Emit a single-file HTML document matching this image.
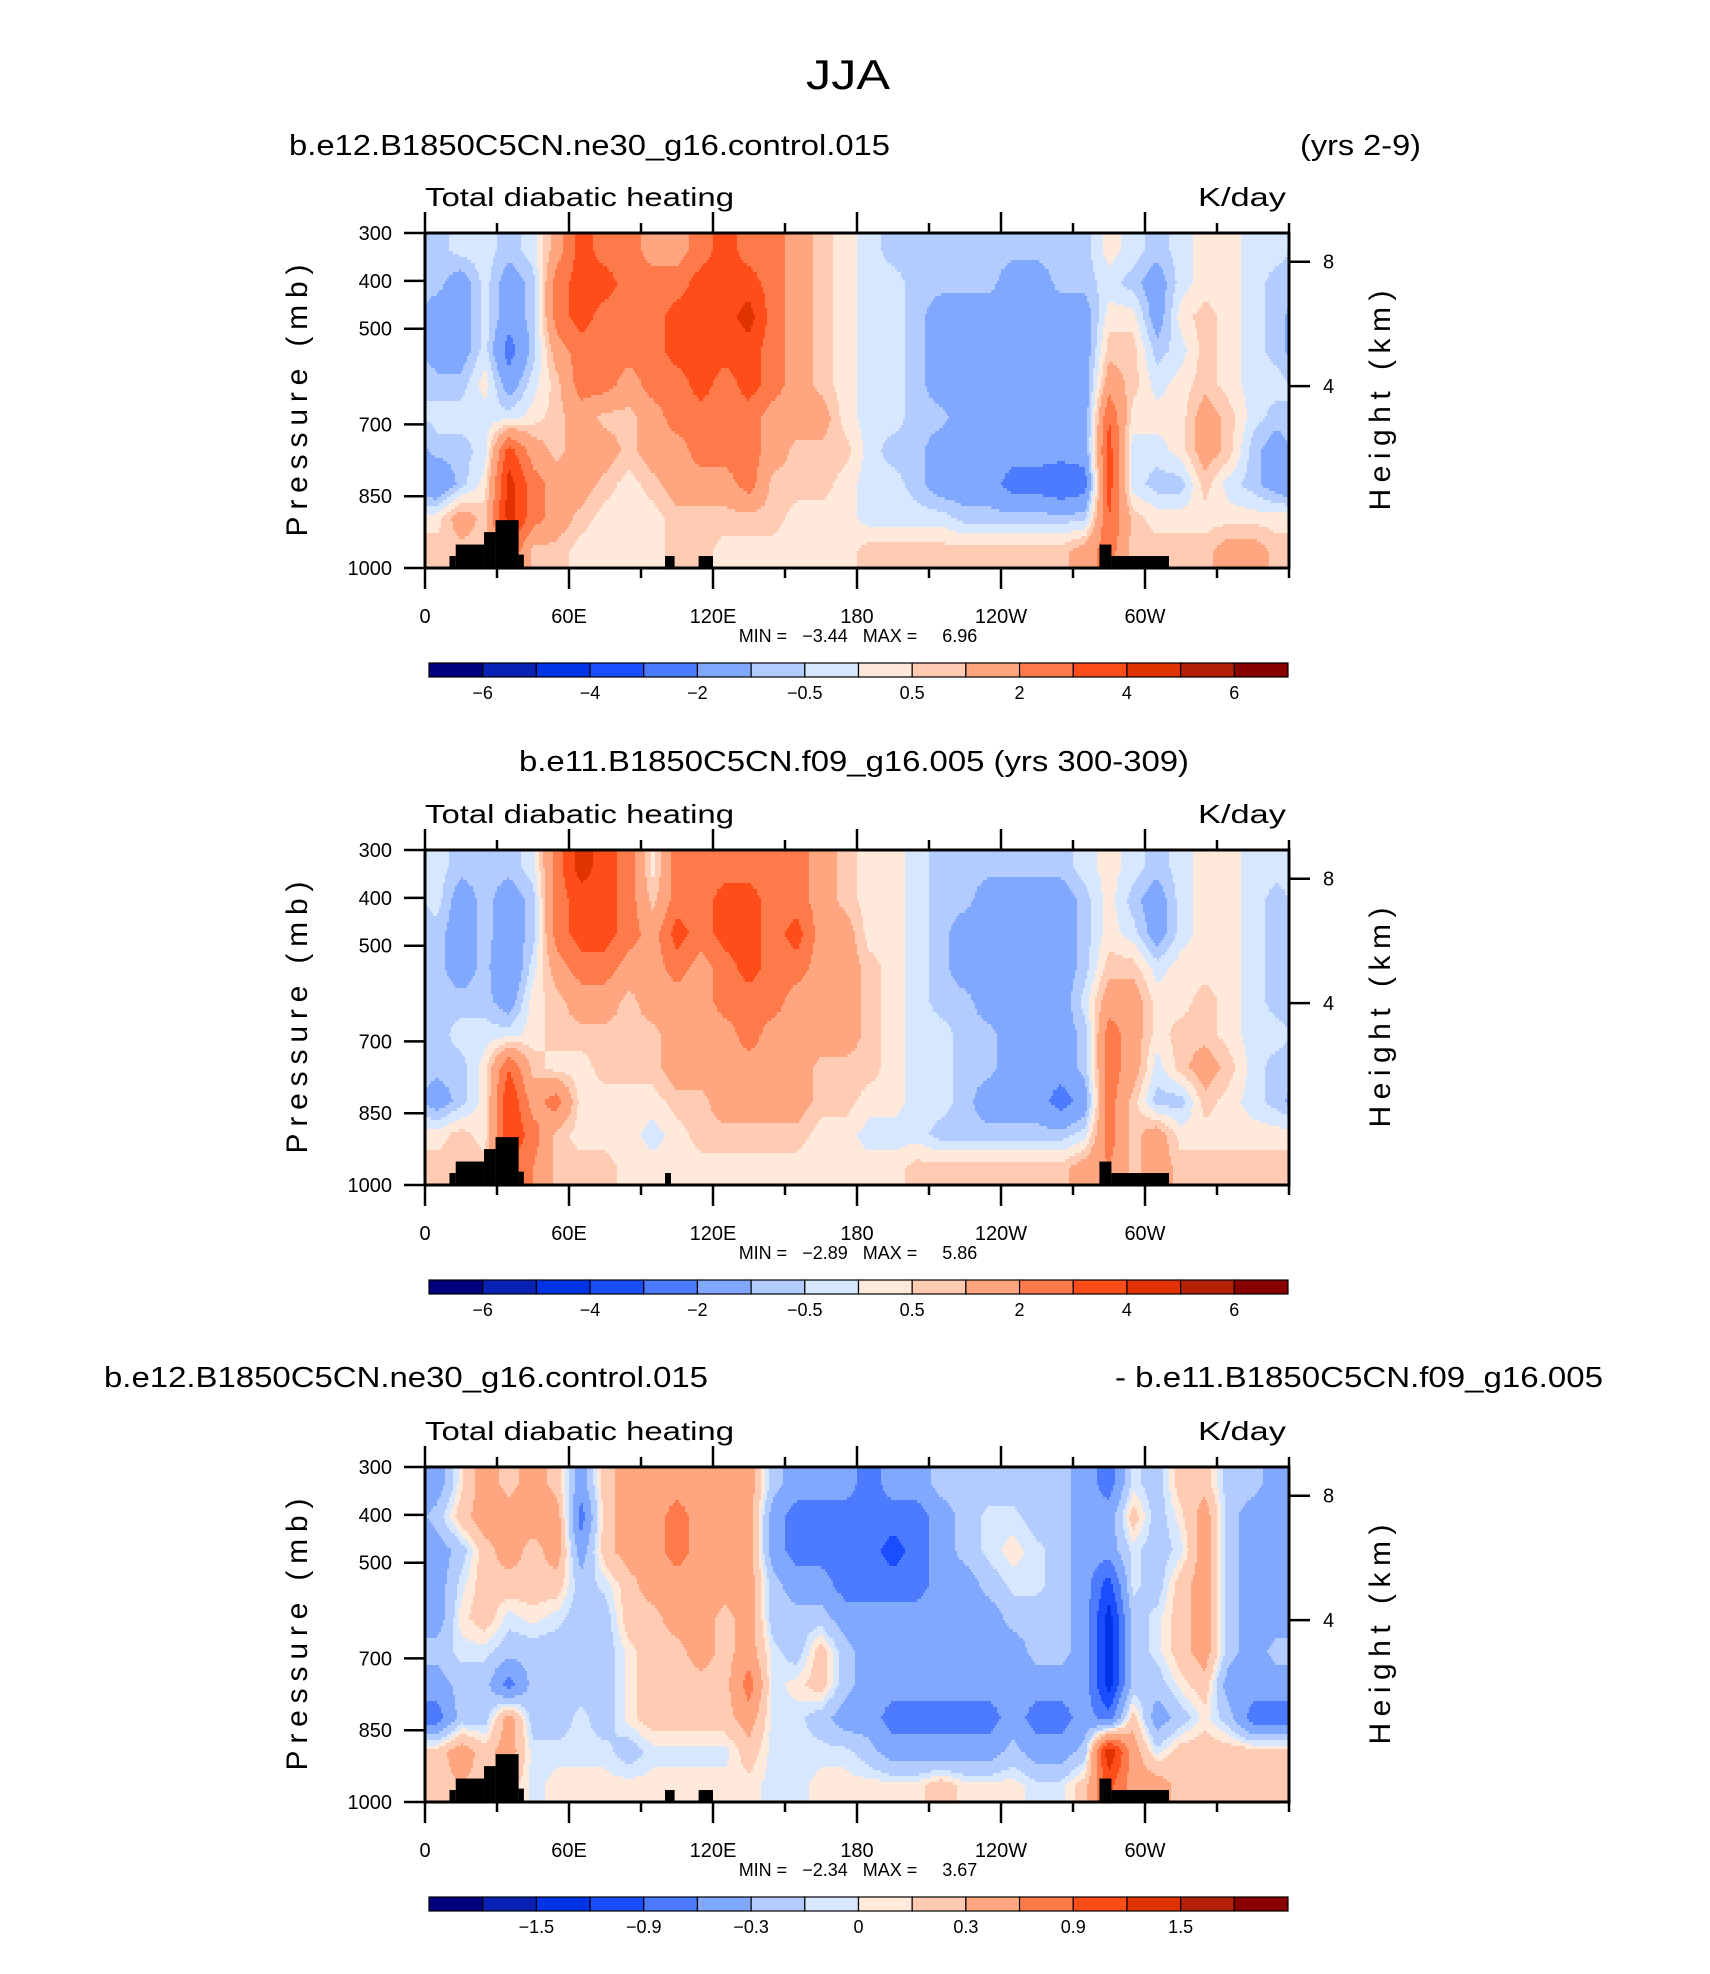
<!DOCTYPE html>
<html><head><meta charset="utf-8"><style>
html,body{margin:0;padding:0;background:#fff;}
svg{display:block;font-family:"Liberation Sans",sans-serif;}
.pre{white-space:pre;}
</style></head><body>
<svg id="fig" width="1710" height="1974" viewBox="0 0 1710 1974" xmlns="http://www.w3.org/2000/svg">
<rect x="0" y="0" width="1710" height="1974" fill="#fff"/>
<text x="848" y="89" font-size="42" text-anchor="middle" textLength="84" lengthAdjust="spacingAndGlyphs">JJA</text>
</svg>
<script>
// ---------- data ----------
const pressureCenters = [335,405,475,545,615,685,755,825,895,965];
const lonCenters = [5,15,25,35,45,55,65,75,85,95,105,115,125,135,145,155,165,175,185,195,205,215,225,235,245,255,265,275,285,295,305,315,325,335,345,355];
const pressureTicks = [300,400,500,700,850,1000];
const heightTickLabels = ["8","4"];
const heightTickPressures = [360,620];
const lonTickValues = [0,60,120,180,240,300];
const lonTickLabels = ["0","60E","120E","180","120W","60W"];
const levelsA = [-6,-5,-4,-3,-2,-1,-0.5,0,0.5,1,2,3,4,5,6];
const levelsDiff = [-1.8,-1.5,-1.2,-0.9,-0.6,-0.3,-0.1,0,0.1,0.3,0.6,0.9,1.2,1.5,1.8];
const barLabelsA = ["−6","−4","−2","−0.5","0.5","2","4","6"];
const barLabelIdxA = [1,3,5,7,9,11,13,15];
const barLabelsDiff = ["−1.5","−0.9","−0.3","0","0.3","0.9","1.5"];
const barLabelIdxDiff = [2,4,6,8,10,12,14];
const palette = ["#00007f","#0a22b4","#0033e6","#1a4dff","#4d7bff","#80a8ff","#b3ccff","#d7e7ff","#ffe9da","#ffcbb3","#ffa680","#ff7a4a","#ff4d1a","#e03300","#b52106","#880000"];
const terrain1 = [[10.2,12.8,975],[12.8,24.6,951],[24.6,29.4,925],[29.4,39,900],[39,41.2,972],[100,104,975],[114,120,975],[281,286,951],[286,310,975]];
const terrain2 = [[10.2,12.8,975],[12.8,24.6,951],[24.6,29.4,925],[29.4,39,900],[39,41.2,972],[100,102.5,975],[281,286,951],[286,310,975]];
const heat1 = [
[-0.75,-0.75,-1.5,-1.5,-0.75,-0.25,-0.75,-2,0.25,0.75],
[-0.25,-1.5,-1.5,-1.5,-0.75,-0.25,-0.75,-0.75,1.5,0.75],
[-0.25,-0.25,-0.25,-0.25,0.25,-0.25,-0.25,0.25,0.75,0.75],
[-0.75,-1.5,-1.5,-2.5,-1.5,-0.25,3.5,4.5,4.5,3],
[-0.25,-0.75,-0.75,-0.75,-0.25,0.25,1.5,2.5,2.5,0.75],
[1.5,2.5,2.5,1.5,0.75,0.75,0.75,1.5,1.5,0.75],
[3.5,3.5,3.5,2.5,2.5,1.5,1.5,1.5,0.75,0.25],
[2.5,3.5,2.5,2.5,2.5,0.75,1.5,0.75,0.25,0.25],
[2.5,2.5,2.5,2.5,1.5,0.75,0.75,0.25,0.25,0.25],
[1.5,2.5,2.5,2.5,2.5,1.5,1.5,0.75,0.25,0.25],
[1.5,2.5,3.5,3.5,2.5,2.5,1.5,1.5,0.75,0.75],
[2.5,3.5,3.5,3.5,3.5,2.5,2.5,1.5,0.75,0.75],
[3.5,3.5,3.5,3.5,2.5,2.5,2.5,1.5,0.75,0.25],
[2.5,3.5,4.5,3.5,3.5,2.5,2.5,2.5,0.75,0.25],
[2.5,2.5,2.5,2.5,2.5,1.5,1.5,0.75,0.75,0.25],
[1.5,1.5,1.5,1.5,1.5,1.5,0.75,0.75,0.25,0.25],
[0.75,0.75,0.75,0.75,0.75,1.5,0.75,0.75,0.25,0.25],
[0.25,0.25,0.25,0.25,0.25,0.25,0.75,0.25,0.25,0.25],
[-0.25,-0.25,-0.25,-0.25,-0.25,-0.25,-0.25,-0.25,-0.25,0.75],
[-0.75,-0.25,-0.25,-0.25,-0.25,-0.25,-0.75,-0.25,-0.25,0.75],
[-0.75,-0.75,-0.75,-0.75,-0.75,-0.75,-0.75,-0.75,-0.25,0.75],
[-0.75,-0.75,-1.5,-1.5,-1.5,-0.75,-1.5,-1.5,-0.25,0.75],
[-0.75,-0.75,-1.5,-1.5,-1.5,-1.5,-1.5,-1.5,-0.75,0.75],
[-0.75,-0.75,-1.5,-1.5,-1.5,-1.5,-1.5,-1.5,-0.75,0.75],
[-0.75,-1.5,-1.5,-1.5,-1.5,-1.5,-1.5,-2.5,-0.75,0.75],
[-0.75,-1.5,-1.5,-1.5,-1.5,-1.5,-1.5,-2.5,-0.75,0.75],
[-0.75,-0.75,-1.5,-1.5,-1.5,-1.5,-1.5,-3,-0.75,0.75],
[-0.75,-0.75,-1.5,-1.5,-1.5,-1.5,-1.5,-2.5,-0.75,1.5],
[0.25,-0.25,0.25,0.75,1.5,3,3.5,3.5,3,2.5],
[-0.25,-0.75,0.25,0.75,0.75,0.25,-0.25,-0.25,0.75,0.75],
[-0.75,-1.5,-1.5,-0.75,-0.25,0.25,-0.25,-0.75,0.25,0.75],
[-0.25,-0.25,0.25,-0.25,0.25,0.25,0.25,-0.75,0.25,0.75],
[0.25,0.25,0.75,0.75,0.75,1.5,1.5,0.75,0.25,0.75],
[0.25,0.25,0.25,0.25,0.25,0.75,0.75,-0.25,0.25,1.5],
[-0.25,-0.25,-0.25,-0.25,-0.25,-0.25,-0.75,-0.75,0.25,1.5],
[-0.25,-0.75,-0.75,-0.75,-0.25,-0.75,-1.5,-1.5,0.25,0.75]
];
const heat2 = [
[-0.25,-0.25,-0.75,-0.75,-0.75,-0.75,-0.75,-1.5,0.25,0.75],
[-0.75,-1.5,-1.5,-1.5,-0.75,-0.25,-0.75,-0.75,0.75,0.75],
[-0.75,-0.75,-0.75,-0.75,-0.75,-0.25,0.25,0.25,0.25,0.75],
[-0.75,-1.5,-1.5,-2,-1.5,-0.25,3,4,4,3],
[-0.25,-0.75,-0.75,-0.25,0.25,0.25,0.75,1.5,2.5,2],
[2.5,2.5,2.5,1.5,0.75,0.75,0.25,2.5,0.75,0.75],
[4.5,3.5,3.5,2.5,1.5,0.75,0.25,0.25,0.25,0.75],
[3.5,3.5,3.5,2.5,1.5,0.75,0.75,0.25,0.25,0.75],
[2.5,2.5,2.5,1.5,0.75,0.75,0.75,0.25,0.25,0.25],
[0.25,0.75,1.5,1.5,1.5,0.75,0.75,0.25,-0.25,0.25],
[2.5,2.5,3.5,2.5,1.5,1.5,1.5,0.75,0.25,0.25],
[2.5,2.5,2.5,1.5,1.5,1.5,1.5,0.75,0.75,0.25],
[2.5,3.5,3.5,2.5,2.5,1.5,1.5,1.5,0.75,0.25],
[2.5,3.5,3.5,3.5,2.5,2.5,1.5,1.5,0.75,0.25],
[2.5,2.5,2.5,2.5,2.5,1.5,1.5,1.5,0.75,0.25],
[2.5,2.5,3.5,2.5,1.5,1.5,1.5,1.5,0.75,0.25],
[1.5,1.5,1.5,1.5,1.5,1.5,0.75,0.75,0.25,0.25],
[0.75,0.75,1.5,1.5,1.5,1.5,0.75,0.75,0.25,0.25],
[0.25,0.25,0.25,0.75,0.75,0.75,0.75,0.25,-0.25,0.25],
[0.25,0.25,0.25,0.25,0.25,0.25,0.25,0.25,-0.25,0.25],
[-0.25,-0.25,-0.25,-0.25,-0.25,-0.25,-0.25,-0.25,-0.25,0.75],
[-0.75,-0.75,-0.75,-0.75,-0.75,-0.25,-0.25,-0.25,-0.75,0.75],
[-0.75,-0.75,-1.5,-1.5,-0.75,-0.75,-0.75,-0.75,-0.75,0.75],
[-0.75,-1.5,-1.5,-1.5,-1.5,-0.75,-0.75,-1.5,-0.75,0.75],
[-0.75,-1.5,-1.5,-1.5,-1.5,-1.5,-1.5,-1.5,-0.75,0.75],
[-0.75,-1.5,-1.5,-1.5,-1.5,-1.5,-1.5,-1.5,-0.75,0.75],
[-0.75,-1.5,-1.5,-1.5,-1.5,-1.5,-1.5,-2.5,-0.75,0.75],
[-0.25,-0.75,-0.75,-0.75,-0.25,-0.75,-0.75,-1.5,-0.25,1.5],
[0.25,0.25,0.25,0.75,1.5,2.5,2.5,2.5,2.5,2],
[-0.25,-0.75,-0.25,0.75,1.5,1.5,1.5,0.75,0.75,0.75],
[-0.75,-1.5,-1.5,-0.25,0.25,0.25,-0.25,-0.75,1.5,1.5],
[-0.25,-0.25,-0.25,0.25,0.25,0.75,0.75,-0.75,0.25,0.75],
[0.25,0.25,0.25,0.25,0.75,0.75,1.5,0.75,0.25,0.75],
[0.25,0.25,0.25,0.25,0.25,0.25,0.75,0.25,0.25,0.75],
[-0.25,-0.25,-0.25,-0.25,-0.25,-0.25,-0.25,-0.25,0.25,0.75],
[-0.25,-0.75,-0.75,-0.75,-0.75,-0.25,-0.75,-0.75,0.25,0.75]
];
const heatDiff = [
[-0.45,-0.2,-0.45,-0.45,-0.45,-0.2,-0.45,-0.75,0.2,0.2],
[0.05,0.2,-0.2,-0.05,0.05,-0.05,-0.2,-0.2,0.45,0.3],
[0.45,0.45,0.2,0.2,0.2,-0.05,-0.2,-0.2,0.2,0.2],
[0.2,0.45,0.45,0.2,-0.05,-0.2,-0.75,0.45,0.45,0.2],
[0.45,0.45,0.2,0.2,0.05,-0.2,-0.2,-0.2,-0.05,-0.05],
[0.2,0.45,0.45,0.2,-0.05,-0.2,-0.2,-0.2,-0.05,0.05],
[-0.45,-0.75,-0.45,-0.2,-0.2,-0.2,-0.2,-0.05,-0.05,0.05],
[0.2,0.2,0.2,-0.05,-0.2,-0.2,-0.2,-0.2,-0.05,0.05],
[0.45,0.45,0.45,0.2,0.2,0.05,0.05,0.05,-0.2,0.05],
[0.45,0.45,0.45,0.45,0.2,0.2,0.2,0.2,-0.05,0.05],
[0.45,0.75,0.75,0.45,0.45,0.2,0.2,0.2,-0.05,0.05],
[0.45,0.45,0.45,0.45,0.45,0.45,0.2,0.2,-0.05,0.05],
[0.45,0.45,0.45,0.45,0.2,0.2,0.2,0.2,-0.05,0.05],
[0.45,0.45,0.45,0.45,0.45,0.45,0.75,0.45,0.2,0.05],
[-0.2,-0.45,-0.45,-0.2,-0.2,-0.05,-0.05,-0.05,-0.05,-0.05],
[-0.45,-0.75,-0.75,-0.45,-0.2,-0.2,0.05,-0.05,-0.05,-0.05],
[-0.45,-0.75,-0.75,-0.45,-0.2,0.2,0.2,-0.2,-0.05,0.05],
[-0.45,-0.75,-0.75,-0.75,-0.45,-0.2,-0.2,-0.45,-0.05,0.05],
[-0.75,-0.75,-0.75,-0.75,-0.45,-0.45,-0.45,-0.45,-0.2,0.05],
[-0.45,-0.75,-1.05,-0.75,-0.45,-0.45,-0.45,-0.75,-0.45,0.05],
[-0.45,-0.75,-0.75,-0.75,-0.45,-0.45,-0.45,-0.75,-0.45,0.05],
[-0.2,-0.45,-0.45,-0.45,-0.45,-0.45,-0.45,-0.75,-0.45,0.2],
[-0.2,-0.2,-0.2,-0.45,-0.45,-0.45,-0.45,-0.75,-0.45,0.05],
[-0.2,-0.05,-0.05,-0.2,-0.45,-0.45,-0.45,-0.75,-0.45,0.05],
[-0.2,-0.05,0.05,-0.05,-0.2,-0.45,-0.45,-0.45,-0.2,0.05],
[-0.2,-0.2,-0.05,-0.05,-0.2,-0.2,-0.45,-0.75,-0.45,-0.05],
[-0.2,-0.2,-0.2,-0.2,-0.2,-0.2,-0.45,-0.75,-0.45,-0.05],
[-0.45,-0.45,-0.45,-0.45,-0.45,-0.45,-0.45,-0.45,-0.2,0.2],
[-0.75,-0.45,-0.45,-1.05,-1.35,-1.35,-1.35,-0.75,1.5,1.0],
[-0.05,0.2,-0.05,-0.05,-0.2,-0.2,-0.2,0.2,0.45,0.45],
[-0.2,-0.2,-0.2,-0.2,-0.05,-0.05,-0.2,-0.45,-0.05,0.45],
[0.2,0.05,-0.05,0.2,0.2,0.2,0.05,-0.2,0.2,0.2],
[0.2,0.45,0.45,0.45,0.45,0.45,0.2,0.05,0.2,0.2],
[-0.2,-0.2,-0.2,-0.2,-0.2,-0.2,-0.45,-0.2,0.2,0.2],
[-0.2,-0.45,-0.45,-0.45,-0.45,-0.45,-0.45,-0.75,0.2,0.2],
[-0.45,-0.45,-0.45,-0.45,-0.45,-0.2,-0.45,-0.75,0.2,0.2]
];
const minMax1 = ["−3.44","6.96"];
const minMax2 = ["−2.89","5.86"];
const minMaxDiff = ["−2.34","3.67"];

// ---------- drawing ----------
const NS = "http://www.w3.org/2000/svg";
const svg = document.getElementById("fig");
const PL = 425, PR = 1289, PW = PR - PL, PH = 335;
function el(tag, attrs, parent){
  const e = document.createElementNS(NS, tag);
  for (const k in attrs) e.setAttribute(k, attrs[k]);
  (parent || svg).appendChild(e);
  return e;
}
function txt(s, attrs, parent){ const e = el("text", attrs, parent); e.textContent = s; return e; }

function drawPanel(T, data, levels, terrain, barLabels, barIdx, mm, name){
  const g = el("g", {});
  
  
  const xOf = lon => PL + lon / 360 * PW;
  const yOf = p => T + (p - 300) / 700 * PH;
  const nx = lonCenters.length, ny = pressureCenters.length;
  function val(lon, p){
    let fx = (lon - lonCenters[0]) / (lonCenters[1] - lonCenters[0]);
    let i0 = Math.floor(fx), tx = fx - i0;
    let a = ((i0 % nx) + nx) % nx, b = (((i0 + 1) % nx) + nx) % nx;
    let j = 0;
    while (j < ny - 2 && p > pressureCenters[j + 1]) j++;
    let ty = (p - pressureCenters[j]) / (pressureCenters[j + 1] - pressureCenters[j]);
    ty = Math.max(0, Math.min(1, ty));
    const v0 = data[a][j] * (1 - tx) + data[b][j] * tx;
    const v1 = data[a][j + 1] * (1 - tx) + data[b][j + 1] * tx;
    return v0 * (1 - ty) + v1 * ty;
  }
  function ci(v){ let k = 0; while (k < levels.length && v >= levels[k]) k++; return k; }
  const field = el("g", {}, g);
  
  
  const step = 3;
  for (let y = 0; y < PH; y += step) {
    const p = 300 + (y + step / 2) / PH * 700;
    let runStart = 0, runC = -1;
    for (let x = 0; x <= PW; x += 2) {
      const c = x < PW ? ci(val((x + 1) / PW * 360, p)) : -2;
      if (c !== runC) {
        if (runC >= 0) {
          el("rect", {x: PL + runStart, y: T + y, width: x - runStart + 0.6, height: step + 0.6, fill: palette[runC]}, field);
        }
        runStart = x; runC = c;
      }
    }
  }
  terrain.forEach(t => {
    const r = el("rect", {x: xOf(t[0]), y: yOf(t[2]), width: xOf(t[1]) - xOf(t[0]), height: yOf(1000) - yOf(t[2]), fill: "#000"}, g);
    
    
  });
  const fr = el("rect", {x: PL, y: T, width: PW, height: PH, fill: "none", stroke: "#000", "stroke-width": 3}, g);
  
  
  for (let lon = 0; lon <= 360; lon += 30) {
    const major = lon % 60 === 0 && lon < 360;
    const L = major ? 21 : 10;
    el("line", {x1: xOf(lon), x2: xOf(lon), y1: T, y2: T - L, stroke: "#000", "stroke-width": 2.5}, g);
    el("line", {x1: xOf(lon), x2: xOf(lon), y1: T + PH, y2: T + PH + L, stroke: "#000", "stroke-width": 2.5}, g);
  }
  lonTickValues.forEach((v, i) => {
    const t = txt(lonTickLabels[i], {x: xOf(v), y: T + PH + 55, "font-size": 20, "text-anchor": "middle"}, g);
    
    
  });
  pressureTicks.forEach(pv => {
    el("line", {x1: PL, x2: PL - 21, y1: yOf(pv), y2: yOf(pv), stroke: "#000", "stroke-width": 2.5}, g);
    const t = txt(String(pv), {x: PL - 33, y: yOf(pv) + 7, "font-size": 20, "text-anchor": "end"}, g);
    
    
  });
  heightTickPressures.forEach((pv, i) => {
    el("line", {x1: PR, x2: PR + 21, y1: yOf(pv), y2: yOf(pv), stroke: "#000", "stroke-width": 2.5}, g);
    const t = txt(heightTickLabels[i], {x: PR + 34, y: yOf(pv) + 7, "font-size": 20}, g);
    
    
  });
  const yt = txt("Pressure (mb)", {x: 0, y: 0, "font-size": 30, "text-anchor": "middle", textLength: 272, lengthAdjust: "spacing", transform: `translate(307 ${T + PH / 2}) rotate(-90)`}, g);
  
  
  const ht = txt("Height (km)", {x: 0, y: 0, "font-size": 30, "text-anchor": "middle", textLength: 220, lengthAdjust: "spacing", transform: `translate(1390 ${T + PH / 2}) rotate(-90)`}, g);
  
  
  const st = txt("Total diabatic heating", {x: PL, y: T - 27, "font-size": 26, textLength: 309, lengthAdjust: "spacingAndGlyphs"}, g);
  
  
  const un = txt("K/day", {x: 1286, y: T - 27, "font-size": 26, "text-anchor": "end", textLength: 88, lengthAdjust: "spacingAndGlyphs"}, g);
  
  
  const mmT = txt(`MIN =   ${mm[0]}   MAX =     ${mm[1]}`, {x: 858, y: T + 409, "font-size": 18, "text-anchor": "middle", "class": "pre"}, g);
  
  
  const CB0 = 429, CB1 = 1288, bw = (CB1 - CB0) / 16, cy = T + 430;
  const cb = el("g", {}, g);
  
  
  palette.forEach((c, k) => {
    const r = el("rect", {x: CB0 + k * bw, y: cy, width: bw, height: 14, fill: c, stroke: "#000", "stroke-width": 1.2}, cb);
    
    
  });
  barIdx.forEach((k, i) => {
    const t = txt(barLabels[i], {x: CB0 + k * bw, y: cy + 36, "font-size": 18, "text-anchor": "middle"}, cb);
    
    
  });
}

drawPanel(233, heat1, levelsA, terrain1, barLabelsA, barLabelIdxA, minMax1, "panel-control");
drawPanel(850, heat2, levelsA, terrain2, barLabelsA, barLabelIdxA, minMax2, "panel-f09");
drawPanel(1467, heatDiff, levelsDiff, terrain1, barLabelsDiff, barLabelIdxDiff, minMaxDiff, "panel-difference");

const h1 = txt("b.e12.B1850C5CN.ne30_g16.control.015", {x: 289, y: 155, "font-size": 29, textLength: 601, lengthAdjust: "spacingAndGlyphs"});


const h1b = txt("(yrs 2-9)", {x: 1421, y: 155, "font-size": 29, "text-anchor": "end", textLength: 121, lengthAdjust: "spacingAndGlyphs"});


const h2 = txt("b.e11.B1850C5CN.f09_g16.005 (yrs 300-309)", {x: 519, y: 771, "font-size": 29, textLength: 670, lengthAdjust: "spacingAndGlyphs"});


const h3 = txt("b.e12.B1850C5CN.ne30_g16.control.015", {x: 104, y: 1387, "font-size": 29, textLength: 604, lengthAdjust: "spacingAndGlyphs"});


const h3b = txt("- b.e11.B1850C5CN.f09_g16.005", {x: 1603, y: 1387, "font-size": 29, "text-anchor": "end", textLength: 488, lengthAdjust: "spacingAndGlyphs"});


</script>
</body></html>
